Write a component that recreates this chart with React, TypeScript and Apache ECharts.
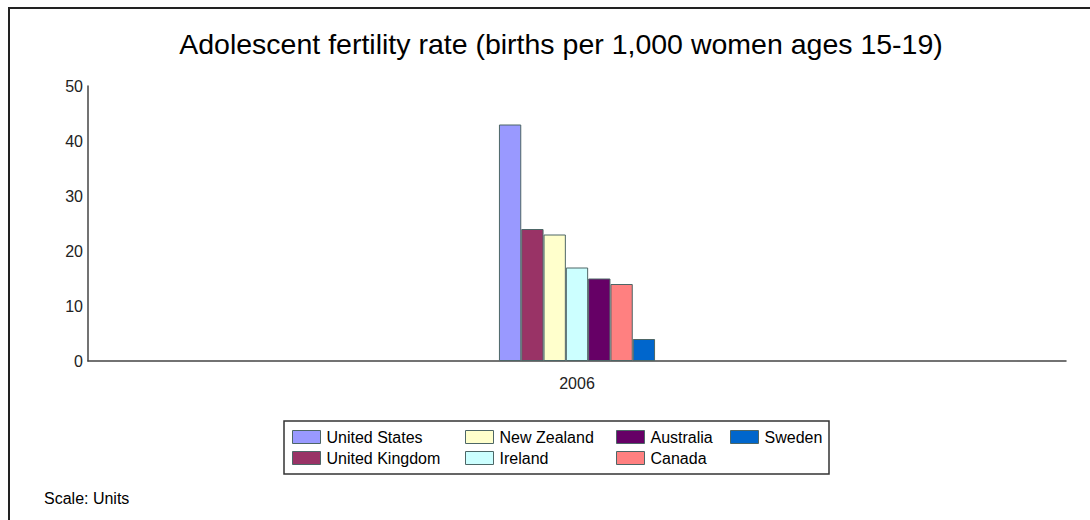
import React, { useEffect, useRef } from "react";
import * as echarts from "echarts";

const categories = ["2006"];
const seriesNames = ["United States", "United Kingdom", "New Zealand", "Ireland", "Australia", "Canada", "Sweden"];
const seriesValues = [[43], [24], [23], [17], [15], [14], [4]];
const seriesColors = ["#9999FF", "#993366", "#FFFFCC", "#CCFFFF", "#660066", "#FF8080", "#0066CC"];
const legendColumns = [
  ["United States", "United Kingdom"],
  ["New Zealand", "Ireland"],
  ["Australia", "Canada"],
  ["Sweden"],
];
const legendLefts = [292, 465, 616, 730];
const yTicks = { min: 0, max: 50, interval: 10 };

const FONT = "'Liberation Sans', Arial, sans-serif";

export default function App() {
  const ref = useRef<HTMLDivElement>(null);
  useEffect(() => {
    if (!ref.current) return;
    const chart = echarts.init(ref.current, null, { renderer: "svg" });
    const option: any = {
      animation: false,
      backgroundColor: "#ffffff",
      textStyle: { fontFamily: FONT },
      title: {
        text: "Adolescent fertility rate (births per 1,000 women ages 15-19)",
        left: 556,
        textAlign: "center",
        top: 24,
        textStyle: { fontFamily: FONT, fontSize: 28.5, fontWeight: "normal", color: "#000" },
      },
      grid: { left: 88, right: 24, top: 86, bottom: 159, containLabel: false },
      xAxis: {
        type: "category",
        data: categories,
        axisLine: { lineStyle: { color: "#444", width: 1.5 } },
        axisTick: { show: false },
        axisLabel: { fontFamily: FONT, fontSize: 16, color: "#222", margin: 14 },
        splitLine: { show: false },
      },
      yAxis: {
        type: "value",
        min: yTicks.min,
        max: yTicks.max,
        interval: yTicks.interval,
        axisLine: { show: true, lineStyle: { color: "#444", width: 1.5 } },
        axisTick: { show: false },
        axisLabel: { fontFamily: FONT, fontSize: 16, color: "#222", margin: 5 },
        splitLine: { show: false },
      },
      legend: legendColumns.map((col, i) => ({
        data: col,
        orient: "vertical",
        left: legendLefts[i],
        top: 429,
        itemWidth: 28,
        itemHeight: 13,
        itemGap: 5,
        icon: "rect",
        padding: 0,
        selectedMode: false,
        itemStyle: { borderColor: "#4d6666", borderWidth: 1 },
        textStyle: { fontFamily: FONT, fontSize: 16, color: "#000", padding: [0, 0, 0, 1], lineHeight: 16 },
      })),
      series: seriesNames.map((name, i) => ({
        name,
        type: "bar",
        data: seriesValues[i],
        barWidth: 22.3,
        barGap: "0%",
        itemStyle: { color: seriesColors[i], borderColor: "#4d6666", borderWidth: 1 },
      })),
      graphic: [
        {
          type: "line",
          shape: { x1: 9, y1: 7, x2: 9, y2: 520 },
          style: { stroke: "#222", lineWidth: 2 },
        },
        {
          type: "line",
          shape: { x1: 8, y1: 8, x2: 1090, y2: 8 },
          style: { stroke: "#222", lineWidth: 2 },
        },
        {
          type: "rect",
          shape: { x: 284, y: 421, width: 545, height: 53 },
          style: { fill: "none", stroke: "#333", lineWidth: 1.5 },
        },
        {
          type: "text",
          x: 44,
          y: 498,
          style: {
            text: "Scale: Units",
            font: `16px ${FONT}`,
            fill: "#000",
            verticalAlign: "middle",
          },
        },
      ],
    };
    chart.setOption(option);
    return () => chart.dispose();
  }, []);
  return (
    <div
      ref={ref}
      style={{ position: "absolute", left: 0, top: 0, width: 1090, height: 520 }}
    />
  );
}
